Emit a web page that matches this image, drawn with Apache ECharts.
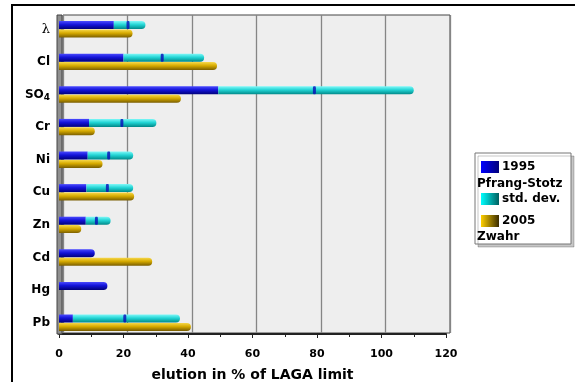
<!DOCTYPE html>
<html><head><meta charset="utf-8">
<script src="https://cdn.jsdelivr.net/npm/echarts@6/dist/echarts.min.js"></script>
<style>html,body{margin:0;padding:0;background:#fff}#c{width:575px;height:382px}</style>
</head><body><div id="c"></div>
<script>
const categories = ['λ', 'Cl', 'SO4', 'Cr', 'Ni', 'Cu', 'Zn', 'Cd', 'Hg', 'Pb'];
const low1995 = [17, 20, 49.4, 9.3, 8.9, 8.5, 8.3, 11.1, 15, 4.3];
const mean1995 = [21.4, 32, 79.2, 19.5, 15.4, 15, 11.6, null, null, 20.4];
const high1995 = [26.8, 45, 110, 30.2, 23, 23, 16, null, null, 37.5];
const val2005 = [22.8, 49, 37.8, 11.1, 13.5, 23.3, 6.9, 28.9, null, 40.9];
const xTicks = [0, 20, 40, 60, 80, 100, 120];

const FONT = 'DejaVu Sans';
const grad = (c) => new echarts.graphic.LinearGradient(0, 0, 0, 1, [
  {offset: 0, color: c[0]}, {offset: 0.45, color: c[1]}, {offset: 1, color: c[2]}]);
const hgrad = (a, b) => new echarts.graphic.LinearGradient(0, 0, 1, 0, [
  {offset: 0, color: a}, {offset: 1, color: b}]);
const BLUE = ['#4a4aff', '#1414d8', '#00007a'];
const CYAN = ['#7ff8f8', '#22d4d4', '#008888'];
const GOLD = ['#f7d84a', '#d6aa00', '#7a5e00'];

const stdDev = high1995.map((h, i) => h == null ? null : +(h - low1995[i]).toFixed(2));
const blueData = low1995.map((v, i) => ({
  value: v,
  itemStyle: {borderRadius: stdDev[i] == null ? [0, 4, 4, 0] : 0}
}));

const xMin = xTicks[0], xMax = xTicks[xTicks.length - 1], xInt = xTicks[1] - xTicks[0];

const chart = echarts.init(document.getElementById('c'), null, {renderer: 'canvas'});
chart.setOption({
  animation: false,
  backgroundColor: '#ffffff',
  grid: [
    {left: 63, top: 15, width: 387, height: 318, show: true, backgroundColor: '#eeeeee',
     borderColor: '#444', borderWidth: 1, z: 0, containLabel: false, outerBoundsMode: 'none'},
    {left: 59, top: 13, width: 387, height: 326, show: false, containLabel: false, outerBoundsMode: 'none'}
  ],
  xAxis: [
    {gridIndex: 0, type: 'value', min: xMin, max: xMax, interval: xInt,
     axisLabel: {show: false}, axisLine: {show: false}, axisTick: {show: false},
     splitLine: {show: true, lineStyle: {color: '#858585', width: 1.3}}},
    {gridIndex: 1, type: 'value', min: xMin, max: xMax, interval: xInt, offset: -5,
     name: 'elution in % of LAGA limit', nameLocation: 'middle', nameGap: 34,
     nameTextStyle: {fontFamily: FONT, fontWeight: 'bold', fontSize: 14, color: '#000'},
     axisLabel: {fontFamily: FONT, fontWeight: 'bold', fontSize: 11, color: '#000', margin: 15},
     axisLine: {show: true, lineStyle: {color: '#222', width: 2}},
     axisTick: {show: true, length: 4, lineStyle: {color: '#222'}},
     minorTick: {show: true, splitNumber: 2, length: 3, lineStyle: {color: '#222'}},
     splitLine: {show: false}}
  ],
  yAxis: [
    {gridIndex: 0, type: 'category', data: categories, show: false},
    {gridIndex: 1, type: 'category', data: categories, inverse: true,
     axisLine: {show: false}, axisTick: {show: false}, splitLine: {show: false},
     axisLabel: {
       margin: 9, color: '#000', fontFamily: FONT, fontWeight: 'bold', fontSize: 12,
       formatter: (v) => v === 'SO4' ? '{b|SO}{s|4}' : (v === 'λ' ? '{l|λ}' : '{b|' + v + '}'),
       rich: {
         b: {fontFamily: FONT, fontWeight: 'bold', fontSize: 12, color: '#000'},
         s: {fontFamily: FONT, fontWeight: 'bold', fontSize: 9, color: '#000', padding: [6, 0, 0, 0]},
         l: {fontFamily: 'DejaVu Serif', fontWeight: 'normal', fontSize: 13, color: '#000'}
       }
     }}
  ],
  series: [
    {name: '1995 Pfrang-Stotz', type: 'bar', xAxisIndex: 1, yAxisIndex: 1, stack: 'a',
     barWidth: 8, barGap: '5%', data: blueData, itemStyle: {color: grad(BLUE)}, z: 3},
    {name: 'std. dev.', type: 'bar', xAxisIndex: 1, yAxisIndex: 1, stack: 'a',
     barWidth: 8, data: stdDev, itemStyle: {color: grad(CYAN), borderRadius: [0, 4, 4, 0]}, z: 3},
    {name: '2005 Zwahr', type: 'bar', xAxisIndex: 1, yAxisIndex: 1,
     barWidth: 8, barGap: '5%', data: val2005, itemStyle: {color: grad(GOLD), borderRadius: [0, 4, 4, 0]}, z: 3},
    {name: 'mean', type: 'scatter', xAxisIndex: 1, yAxisIndex: 1,
     data: mean1995.map((m, i) => m == null ? null : [m, categories[i]]),
     symbol: 'roundRect', symbolSize: [3, 8], symbolOffset: [0, -4.2],
     itemStyle: {color: '#0a0ab8'}, z: 5}
  ],
  graphic: [
    {type: 'rect', shape: {x: 57, y: 15, width: 5, height: 319},
     style: {fill: '#8f8f8f', stroke: '#444', lineWidth: 1}, z: 1},
    {type: 'rect', shape: {x: 12, y: 5, width: 700, height: 500},
     style: {fill: 'none', stroke: '#000', lineWidth: 2}, z: 10},
    {type: 'rect', shape: {x: 475, y: 153, width: 96, height: 91},
     style: {fill: '#fff', stroke: '#777', lineWidth: 1,
       shadowColor: 'rgba(0,0,0,0.22)', shadowOffsetX: 3, shadowOffsetY: 3, shadowBlur: 0}, z: 10},
    {type: 'rect', shape: {x: 481, y: 161, width: 18, height: 12}, style: {fill: hgrad('#0000ff', '#00007a')}, z: 11},
    {type: 'text', x: 502, y: 167, style: {text: '1995', font: 'bold 12px "DejaVu Sans"', fill: '#000', verticalAlign: 'middle'}, z: 11},
    {type: 'text', x: 477, y: 184, style: {text: 'Pfrang-Stotz', font: 'bold 12px "DejaVu Sans"', fill: '#000', verticalAlign: 'middle'}, z: 11},
    {type: 'rect', shape: {x: 481, y: 193, width: 18, height: 12}, style: {fill: hgrad('#00ffff', '#005f5f')}, z: 11},
    {type: 'text', x: 502, y: 199, style: {text: 'std. dev.', font: 'bold 12px "DejaVu Sans"', fill: '#000', verticalAlign: 'middle'}, z: 11},
    {type: 'rect', shape: {x: 481, y: 215, width: 18, height: 12}, style: {fill: hgrad('#ffd000', '#3a2c00')}, z: 11},
    {type: 'text', x: 502, y: 221, style: {text: '2005', font: 'bold 12px "DejaVu Sans"', fill: '#000', verticalAlign: 'middle'}, z: 11},
    {type: 'text', x: 477, y: 237, style: {text: 'Zwahr', font: 'bold 12px "DejaVu Sans"', fill: '#000', verticalAlign: 'middle'}, z: 11}
  ]
});
</script>
</body></html>
